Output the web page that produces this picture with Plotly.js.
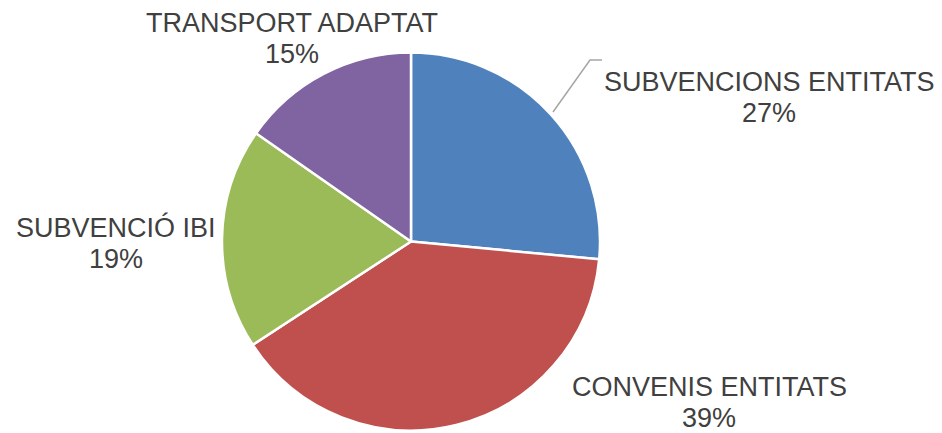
<!DOCTYPE html>
<html>
<head>
<meta charset="utf-8">
<script src="https://cdn.plot.ly/plotly-3.0.1.min.js"></script>
<style>html,body{margin:0;padding:0;background:#fff;}#chart{width:942px;height:433px;}</style>
</head>
<body>
<div id="chart"></div>
<script>
const categories = ["SUBVENCIONS ENTITATS", "CONVENIS ENTITATS", "SUBVENCIÓ IBI", "TRANSPORT ADAPTAT"];
const values = [26.5, 39.3, 18.9, 15.3];
const sliceColors = ["#4F81BD", "#C0504D", "#9BBB59", "#8064A2"];
const labelPos = [[769, 97], [709, 402], [116, 243], [292, 39]]; // label centres in px

const W = 942, H = 433;
const total = values.reduce((a, b) => a + b, 0);
const font = {family: "Liberation Sans, Arial, sans-serif", size: 27, color: "#404040"};
const annotations = [];
categories.forEach((c, i) => {
  const lines = [c, Math.round(values[i] / total * 100) + "%"];
  lines.forEach((t, k) => {
    annotations.push({
      text: t,
      x: labelPos[i][0] / W, y: 1 - (labelPos[i][1] + (k === 0 ? -15.5 : 15.5)) / H,
      xref: "paper", yref: "paper", xanchor: "center", yanchor: "middle",
      showarrow: false, align: "center", borderpad: 0, font: font
    });
  });
});

const data = [{
  type: "pie",
  labels: categories,
  values: values,
  sort: false,
  direction: "clockwise",
  rotation: 0,
  textinfo: "none",
  hoverinfo: "label+percent",
  marker: {colors: sliceColors, line: {color: "#ffffff", width: 2.5}},
  domain: {x: [222 / W, 600 / W], y: [2 / H, 1 - 52 / H]},
  showlegend: false
}];

const layout = {
  width: W, height: H,
  margin: {l: 0, r: 0, t: 0, b: 0},
  paper_bgcolor: "#ffffff",
  showlegend: false,
  annotations: annotations,
  shapes: [{
    type: "path", xref: "paper", yref: "paper",
    path: "M " + (553 / W) + " " + (1 - 112 / H) + " L " + (590 / W) + " " + (1 - 60 / H) + " L " + (602 / W) + " " + (1 - 60 / H),
    line: {color: "#A6A6A6", width: 1.5}
  }]
};

Plotly.newPlot("chart", data, layout, {staticPlot: true});
</script>
</body>
</html>
